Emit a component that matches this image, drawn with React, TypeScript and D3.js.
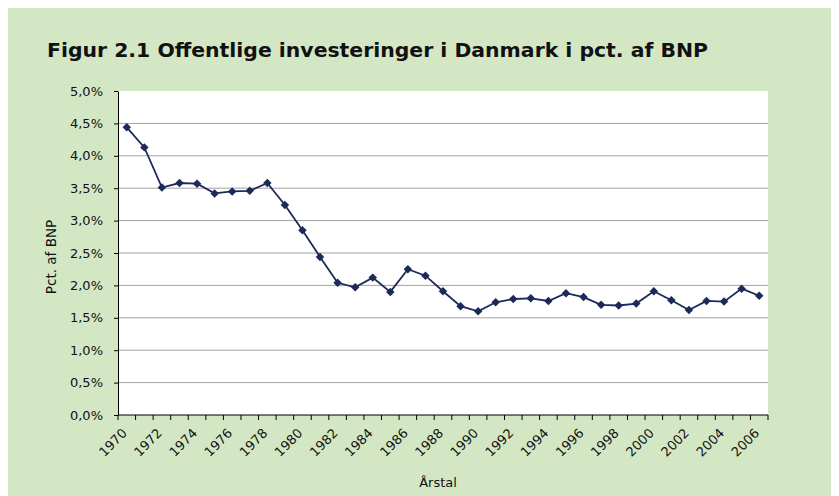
import React, { useEffect, useRef } from 'react';
import * as d3 from 'd3';

// Offentlige investeringer i pct. af BNP, 1970-2006
const years = d3.range(1970, 2007);
const values = [
  4.44, 4.13, 3.51, 3.58, 3.57, 3.42, 3.45, 3.46, 3.58, 3.24,
  2.85, 2.44, 2.04, 1.97, 2.12, 1.90, 2.25, 2.15, 1.91, 1.68,
  1.60, 1.74, 1.79, 1.80, 1.76, 1.88, 1.82, 1.70, 1.69, 1.72,
  1.91, 1.77, 1.62, 1.76, 1.75, 1.95, 1.84,
];
const yTicks = [0, 0.5, 1, 1.5, 2, 2.5, 3, 3.5, 4, 4.5, 5];

const W = 831;
const H = 488;
const FONT = 'DejaVu Sans, Verdana, sans-serif';

const App = () => {
  const ref = useRef<SVGSVGElement | null>(null);

  useEffect(() => {
    const svg = d3.select(ref.current);
    svg.selectAll('*').remove();

    // svg sits at the body margin (8,8)
    const margin = { top: 83, right: 71, bottom: 81, left: 110 };
    const width = W - margin.left - margin.right;
    const height = H - margin.top - margin.bottom;

    svg.append('rect').attr('width', W).attr('height', H).attr('fill', '#d4e7c5');

    svg.append('text')
      .attr('x', 39)
      .attr('y', 49)
      .attr('font-family', FONT)
      .attr('font-weight', 'bold')
      .attr('font-size', 19)
      .attr('textLength', 661)
      .attr('lengthAdjust', 'spacingAndGlyphs')
      .attr('fill', '#111')
      .text('Figur 2.1 Offentlige investeringer i Danmark i pct. af BNP');

    const g = svg.append('g').attr('transform', `translate(${margin.left},${margin.top})`);

    g.append('rect').attr('width', width).attr('height', height).attr('fill', '#fff');

    const x = d3.scaleBand<number>().domain(years).range([0, width]);
    const y = d3.scaleLinear().domain([0, 5]).range([height, 0]);

    // gridlines
    g.selectAll('line.grid')
      .data(yTicks.filter(t => t > 0 && t < 5))
      .enter().append('line')
      .attr('class', 'grid')
      .attr('x1', 0).attr('x2', width)
      .attr('y1', d => y(d)).attr('y2', d => y(d))
      .attr('stroke', '#a3a3a3')
      .attr('stroke-width', 1);

    // y axis
    const yAxis = g.append('g')
      .call(d3.axisLeft(y).tickValues(yTicks).tickSize(4).tickSizeOuter(0).tickPadding(11)
        .tickFormat(d => d3.format('.1f')(d as number).replace('.', ',') + '%'));
    yAxis.select('.domain').attr('stroke', '#000');
    yAxis.selectAll('.tick line').attr('stroke', '#000');
    yAxis.selectAll('text')
      .attr('font-family', FONT)
      .attr('font-size', 13)
      .attr('fill', '#111');

    // x axis: ticks between categories, labels every second year
    const xg = g.append('g').attr('transform', `translate(0,${height})`);
    xg.append('line').attr('x1', 0).attr('x2', width).attr('stroke', '#000');
    xg.selectAll('line.tick')
      .data(d3.range(years.length + 1))
      .enter().append('line')
      .attr('class', 'tick')
      .attr('x1', i => i * x.step()).attr('x2', i => i * x.step())
      .attr('y1', 0).attr('y2', 5)
      .attr('stroke', '#000');
    xg.selectAll('text')
      .data(years.filter(yr => (yr - 1970) % 2 === 0))
      .enter().append('text')
      .attr('transform', d => `translate(${(x(d) as number) + x.bandwidth() / 2 + 1},19) rotate(-45)`)
      .attr('text-anchor', 'end')
      .attr('font-family', FONT)
      .attr('font-size', 13)
      .attr('fill', '#111')
      .text(d => d);

    // axis titles
    svg.append('text')
      .attr('transform', `translate(47.5,249) rotate(-90)`)
      .attr('text-anchor', 'middle')
      .attr('font-family', FONT)
      .attr('font-size', 13.5)
      .attr('fill', '#111')
      .text('Pct. af BNP');

    svg.append('text')
      .attr('x', 430)
      .attr('y', 479)
      .attr('text-anchor', 'middle')
      .attr('font-family', FONT)
      .attr('font-size', 13)
      .attr('fill', '#111')
      .text('Årstal');

    const cx = (d: number) => (x(d) as number) + x.bandwidth() / 2;

    const line = d3.line<number>()
      .x((_, i) => cx(years[i]))
      .y(d => y(d));

    g.append('path')
      .datum(values)
      .attr('d', line)
      .attr('fill', 'none')
      .attr('stroke', '#1c2a5a')
      .attr('stroke-width', 1.8);

    const diamond = d3.symbol().type(d3.symbolDiamond2).size(46);
    g.selectAll('path.marker')
      .data(values)
      .enter().append('path')
      .attr('class', 'marker')
      .attr('d', diamond)
      .attr('transform', (d, i) => `translate(${cx(years[i])},${y(d)})`)
      .attr('fill', '#1c2a5a');
  }, []);

  return <svg ref={ref} width={W} height={H} style={{ display: 'block' }} />;
};

export default App;
